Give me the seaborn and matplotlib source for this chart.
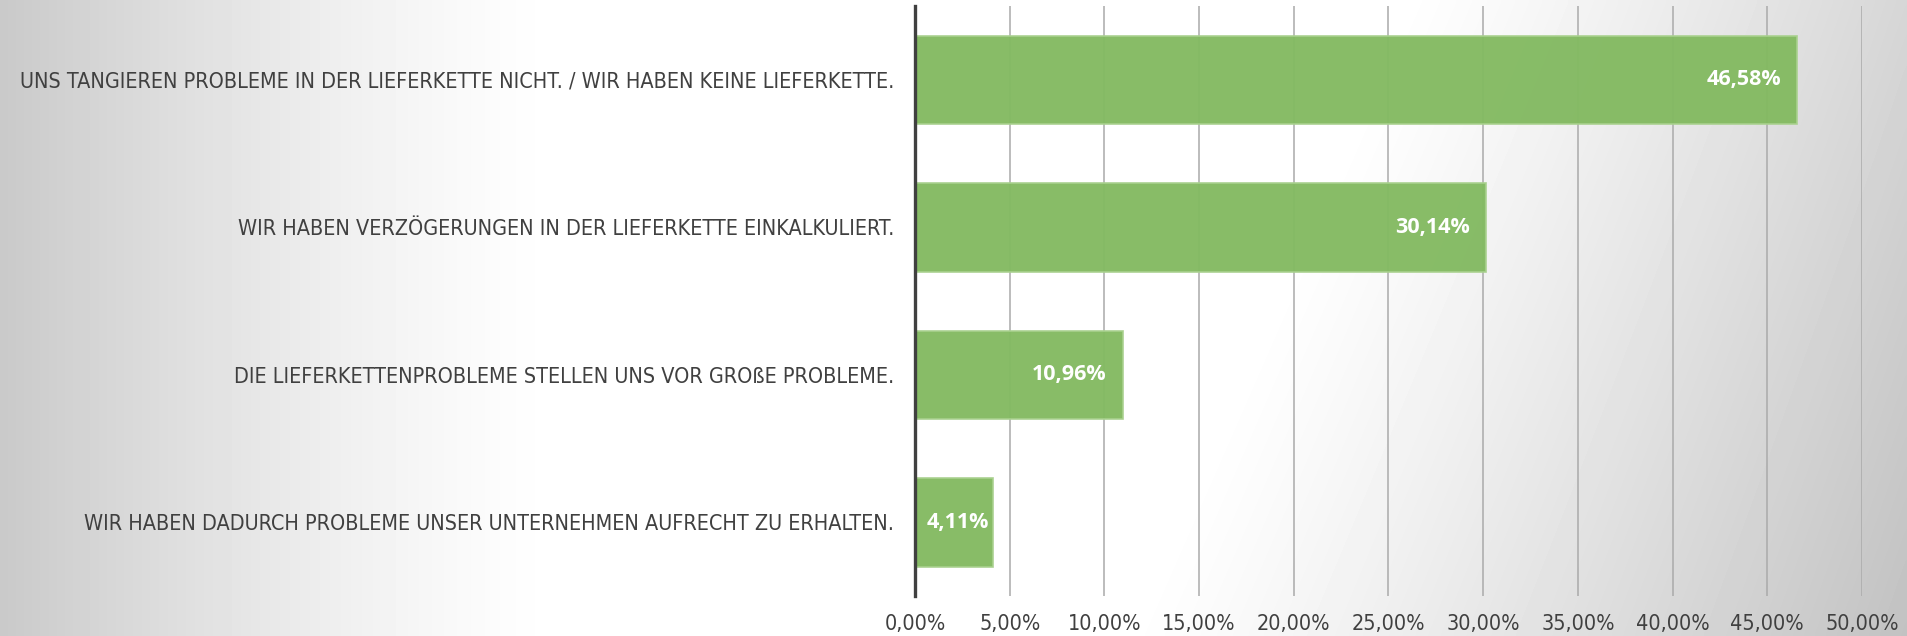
import numpy as np
import pandas as pd
import seaborn as sns
import matplotlib
matplotlib.use("Agg")
import matplotlib.pyplot as plt
from matplotlib import font_manager
from matplotlib.ticker import FuncFormatter

# data
answers = [
    "UNS TANGIEREN PROBLEME IN DER LIEFERKETTE NICHT. / WIR HABEN KEINE LIEFERKETTE.",
    "WIR HABEN VERZÖGERUNGEN IN DER LIEFERKETTE EINKALKULIERT.",
    "DIE LIEFERKETTENPROBLEME STELLEN UNS VOR GROßE PROBLEME.",
    "WIR HABEN DADURCH PROBLEME UNSER UNTERNEHMEN AUFRECHT ZU ERHALTEN.",
]
shares = [46.58, 30.14, 10.96, 4.11]
x_ticks = [0, 5, 10, 15, 20, 25, 30, 35, 40, 45, 50]

df = pd.DataFrame({"answer": answers, "share": shares})

sns.set_style("white")
plt.rcParams["font.family"] = ["Open Sans", "DejaVu Sans"]


def wnum(w):
    if isinstance(w, (int, float)):
        return w
    return {"light": 300, "normal": 400, "regular": 400, "book": 400, "medium": 500,
            "bold": 700}.get(str(w), 400)


# look for a narrow light/regular face, the original looks like Calibri Light
cands = []
for f in font_manager.fontManager.ttflist:
    txt = (f.name + " " + f.fname).lower()
    if ("condensed" in txt or "narrow" in txt) and f.style == "normal" and wnum(f.weight) <= 400:
        if "semicondensed" in txt.replace(" ", "").replace("_", ""):
            continue
        cands.append((abs(wnum(f.weight) - 350), f.fname))
cands.sort()
if cands:
    label_font = font_manager.FontProperties(fname=cands[0][1])
else:
    label_font = font_manager.FontProperties(family="Liberation Sans")

fig = plt.figure(figsize=(19.08, 6.36), dpi=100)

# background: grey on the left, white in the middle, grey again to the right
bg = fig.add_axes([0, 0, 1, 1], zorder=-10)
xx, yy = np.meshgrid(np.linspace(0, 1908, 480), np.linspace(0, 636, 160))
left = 0.21 * np.clip((560 - xx) / 560, 0, 1) ** 1.3
xs = 1400 - 280 * (yy / 636)
right = (0.16 + 0.08 * yy / 636) * np.clip((xx - xs) / (1908 - xs), 0, 1) ** 1.2
shade = 1 - left - right
bg.imshow(shade, cmap="gray", vmin=0, vmax=1, extent=[0, 1908, 636, 0], aspect="auto", interpolation="bicubic")
bg.set_axis_off()

ax = fig.add_axes([915 / 1908, 1 - 596 / 636, (1862 - 915) / 1908, 590 / 636])
ax.set_facecolor("none")

sns.barplot(data=df, x="share", y="answer", orient="h", color="#84BA62",
            edgecolor="#a9d18e", linewidth=1.2, width=0.6, saturation=1, alpha=0.97, ax=ax)

ax.set_xlim(0, 50)
ax.set_xticks(x_ticks)
ax.xaxis.set_major_formatter(FuncFormatter(lambda v, p: f"{v:.2f}".replace(".", ",") + "%"))
ax.grid(axis="x", color="#aaaaaa", linewidth=1.1)
ax.set_axisbelow(True)

for s in ["top", "right", "bottom"]:
    ax.spines[s].set_visible(False)
ax.spines["left"].set_color("#404040")
ax.spines["left"].set_linewidth(2.4)

ax.tick_params(axis="x", length=0, pad=13, labelcolor="#404040")
ax.tick_params(axis="y", length=0, pad=15, labelcolor="#404040")
ax.set_xlabel("")
ax.set_ylabel("")

# size the category labels so the longest one is about 880 px wide like the original
fig.canvas.draw()
renderer = fig.canvas.get_renderer()
label_font.set_size(14)
probe = fig.text(0, 0, answers[0], fontproperties=label_font)
w = probe.get_window_extent(renderer).width
probe.remove()
size = min(14 * 880 / w, 22)

for lab in ax.get_yticklabels():
    lab.set_fontproperties(label_font)
    lab.set_fontsize(size)
for lab in ax.get_xticklabels():
    lab.set_fontproperties(label_font)
    lab.set_fontsize(size)

# value labels at the inside end; short bars get them pushed to the end
px_per_unit = (1862 - 915) / 50
for i, v in enumerate(shares):
    t = ax.text(v - 0.85, i, f"{v:.2f}".replace(".", ",") + "%", ha="right", va="center",
                color="white", fontsize=15.5, fontweight="bold", family=["Open Sans", "DejaVu Sans"])
    tw = t.get_window_extent(renderer).width / px_per_unit
    if v - 0.85 - tw < 0.3:
        t.set_x(v - 0.2)

plt.savefig("out.png", dpi=100)
